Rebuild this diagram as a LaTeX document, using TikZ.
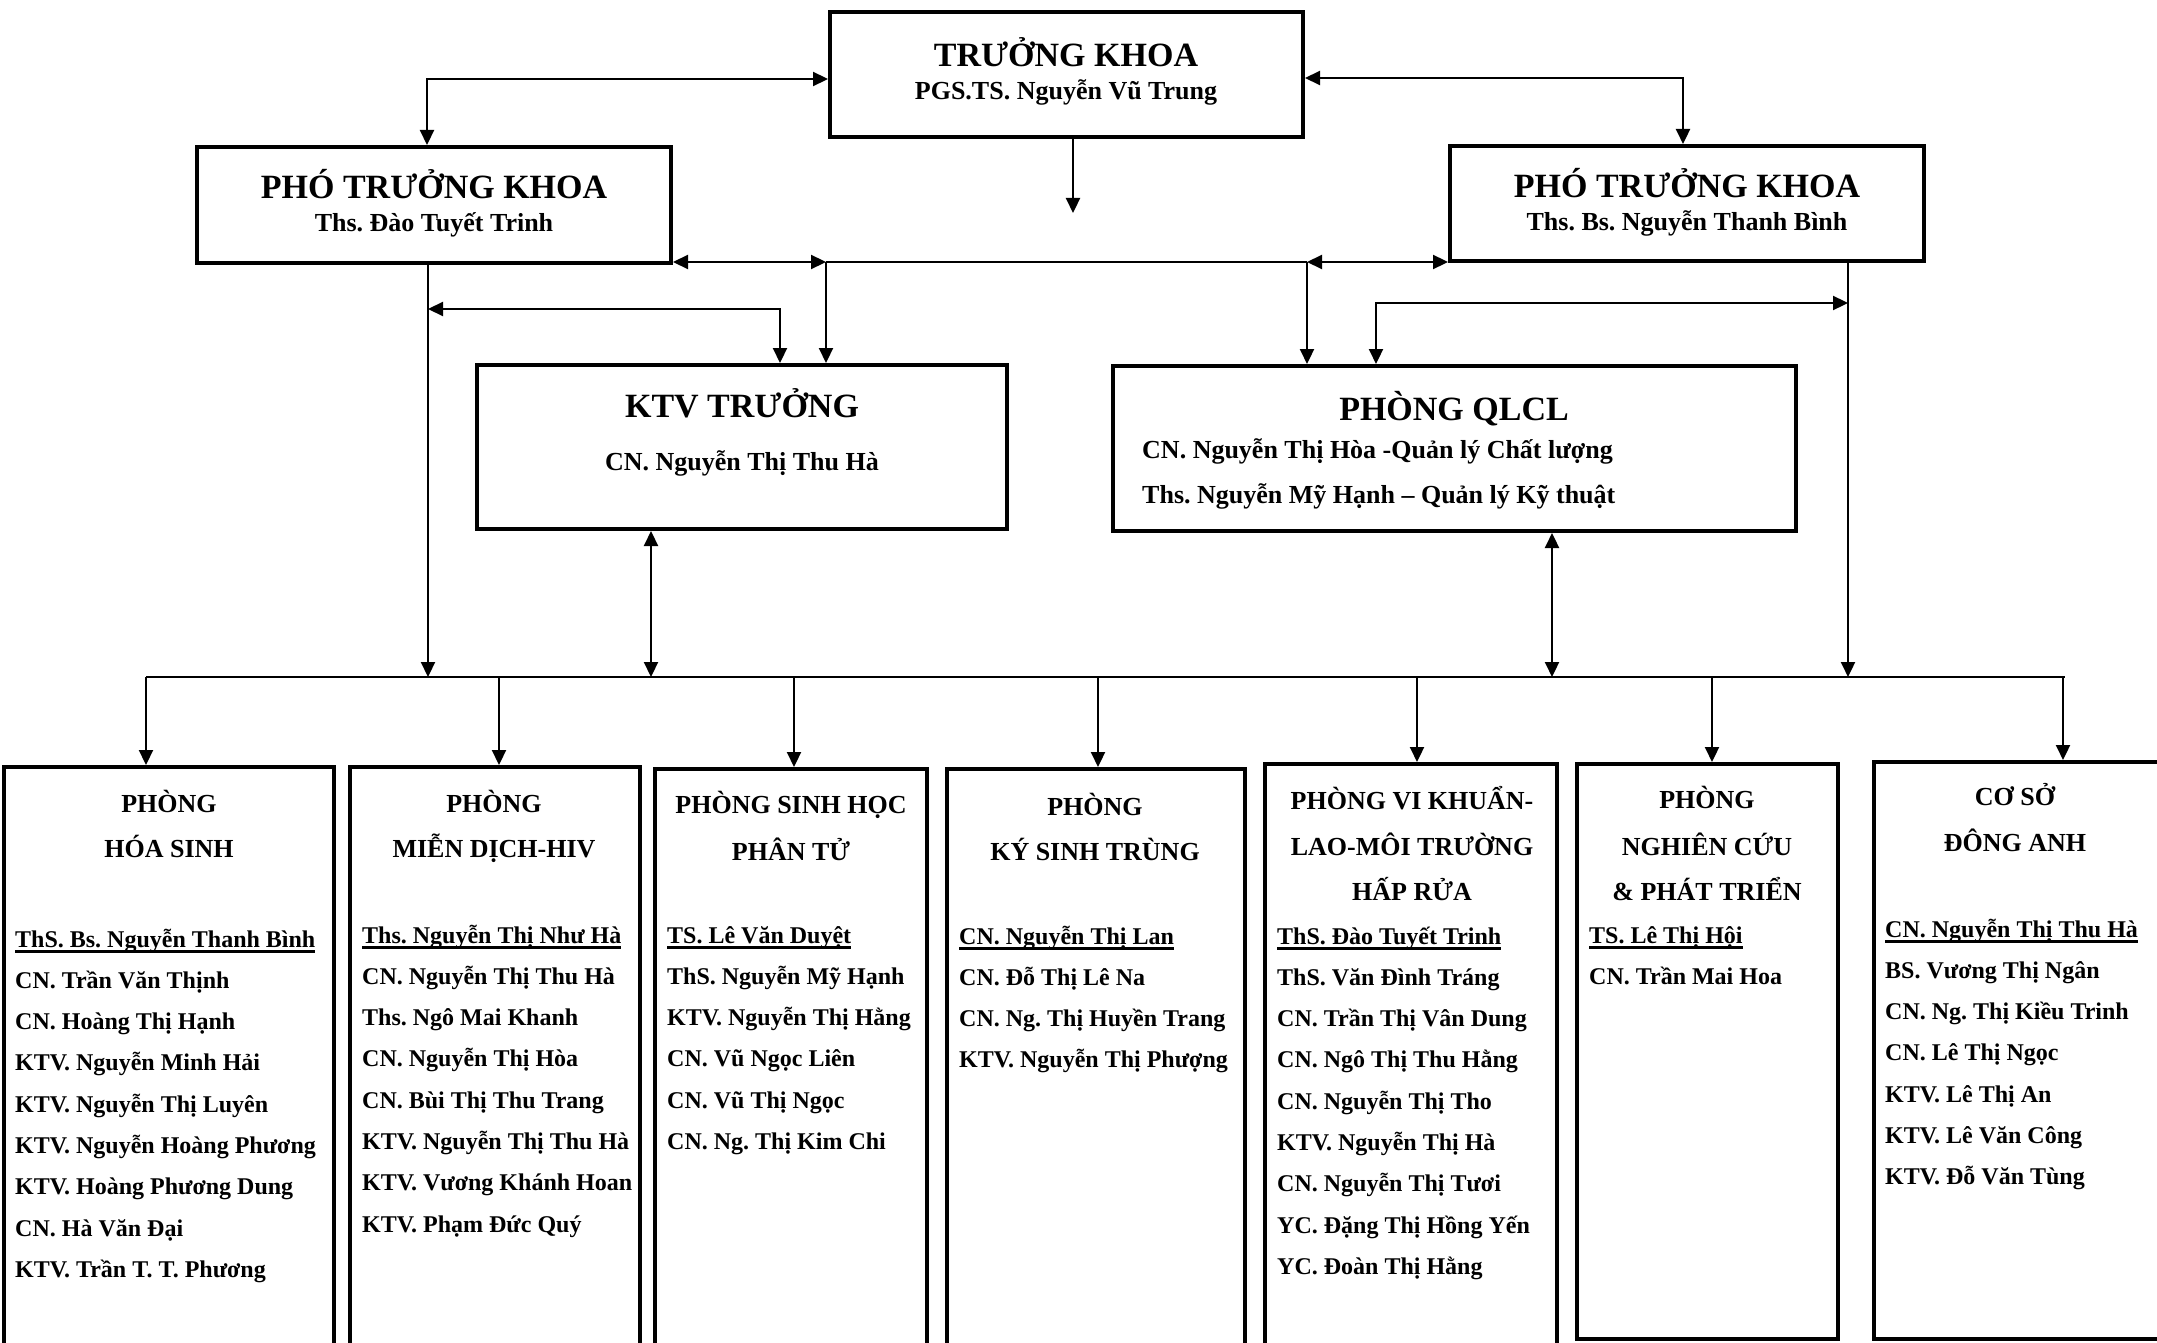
\documentclass[tikz,border=0pt]{standalone}
\usepackage{fontspec}
\setmainfont{Liberation Serif}
\usetikzlibrary{arrows.meta}
\newcommand\myul[1]{\setbox0=\hbox{#1}\rlap{\rule[-5.5pt]{\wd0}{2.2pt}}\box0}
\AtBeginDocument{\frenchspacing}
\begin{document}
\begin{tikzpicture}[x=1pt,y=-1pt,
  box/.style={draw,line width=4pt,rectangle,inner sep=0pt},
  conn/.style={line width=2.2pt},
  arr/.style={conn,-{Triangle[length=15pt,width=14pt]}},
  dbl/.style={conn,{Triangle[length=15pt,width=14pt]}-{Triangle[length=15pt,width=14pt]}},
  ttl/.style={font=\frenchspacing\bfseries\fontsize{34}{40}\selectfont,inner sep=0pt,anchor=base},
  sub/.style={font=\frenchspacing\bfseries\fontsize{26}{30}\selectfont,inner sep=0pt,anchor=base},
  subl/.style={sub,anchor=base west},
  nm/.style={font=\frenchspacing\bfseries\fontsize{24}{28}\selectfont,inner sep=0pt,anchor=base west},
]
\useasboundingbox (0,0) rectangle (2157,1343);
\clip (0,0) rectangle (2157,1343);

% upper boxes
\node[box,minimum width=473pt,minimum height=125pt] (tk) at (1066.5,74.5) {};
\node[box,minimum width=474pt,minimum height=116pt] (lp) at (434,205) {};
\node[box,minimum width=474pt,minimum height=115pt] (rp) at (1687,203.5) {};
\node[box,minimum width=530pt,minimum height=164pt] (ktv) at (742,447) {};
\node[box,minimum width=683pt,minimum height=165pt] (qlcl) at (1454.5,448.5) {};

% lower boxes
\node[box,minimum width=330pt,minimum height=633pt] (b1) at (169,1083.5) {};
\node[box,minimum width=290pt,minimum height=633pt] (b2) at (495,1083.5) {};
\node[box,minimum width=272pt,minimum height=631pt] (b3) at (791,1084.5) {};
\node[box,minimum width=298pt,minimum height=631pt] (b4) at (1096,1084.5) {};
\node[box,minimum width=292pt,minimum height=636pt] (b5) at (1411,1082) {};
\node[box,minimum width=261pt,minimum height=575pt] (b6) at (1707.5,1051.5) {};
\node[box,minimum width=288pt,minimum height=577pt] (b7) at (2018,1050.5) {};

% coordinates
\coordinate (c1) at (427,79);
\coordinate (c2) at (1683,78);
\coordinate (tkd) at (1073,213);
\coordinate (j1) at (826,262);
\coordinate (j2) at (1307,262);
\coordinate (lv) at (428,677);
\coordinate (rv) at (1848,677);
\coordinate (c3) at (428,309);
\coordinate (c4) at (780,309);
\coordinate (c5) at (1376,303);
\coordinate (c6) at (1848,303);
\coordinate (kb) at (651,677);
\coordinate (qb) at (1552,677);
\coordinate (busL) at (146,677);
\coordinate (busR) at (2065,677);

% connectors
\draw[dbl] (c1 -| tk.west) -- (c1) -- (c1 |- lp.north);
\draw[dbl] (c2 -| tk.east) -- (c2) -- (c2 |- rp.north);
\draw[arr] (tkd |- tk.south) -- (tkd);
\draw[dbl] (j1 -| lp.east) -- (j1);
\draw[conn] (j1) -- (j2);
\draw[dbl] (j2) -- (j2 -| rp.west);
\draw[arr] (j1) -- (j1 |- ktv.north);
\draw[arr] (j2) -- (j2 |- qlcl.north);
\draw[arr] (lv |- lp.south) -- (lv);
\draw[arr] (rv |- rp.south) -- (rv);
\draw[dbl] (c3) -- (c4) -- (c4 |- ktv.north);
\draw[dbl] (c5 |- qlcl.north) -- (c5) -- (c6);
\draw[dbl] (kb |- ktv.south) -- (kb);
\draw[dbl] (qb |- qlcl.south) -- (qb);
\draw[conn] (busL) -- (busR);
\foreach \n/\x in {b1/146,b2/499,b3/794,b4/1098,b5/1417,b6/1712,b7/2063}{
  \coordinate (d\n) at (\x,677);
  \draw[arr] (d\n) -- (d\n |- \n.north);
}

% upper texts
\node[ttl] (tkT) at (1066,67) {TRƯỞNG KHOA};
\node[sub] (tkS) at (1066,100) {PGS.TS. Nguyễn Vũ Trung};
\node[ttl] (lpT) at (434,199) {PHÓ TRƯỞNG KHOA};
\node[sub] (lpS) at (434,232) {Ths. Đào Tuyết Trinh};
\node[ttl] (rpT) at (1687,197) {PHÓ TRƯỞNG KHOA};
\node[sub] (rpS) at (1687,230) {Ths. Bs. Nguyễn Thanh Bình};
\node[ttl] (ktvT) at (742,417) {KTV TRƯỞNG};
\node[sub] (ktvS) at (742,470) {CN. Nguyễn Thị Thu Hà};
\node[ttl] (qT) at (1454,420) {PHÒNG QLCL};
\node[subl] (qS1) at (1142,458) {CN. Nguyễn Thị Hòa -Quản lý Chất lượng};
\node[subl] (qS2) at (1142,503) {Ths. Nguyễn Mỹ Hạnh – Quản lý Kỹ thuật};

% box 1
\node[sub] (b1h1) at (169,812) {PHÒNG};
\node[sub] (b1h2) at (169,857) {HÓA SINH};
\node[nm] (b1n0) at (15,947) {\myul{ThS. Bs. Nguyễn Thanh Bình}};
\foreach \t [count=\i] in {CN. Trần Văn Thịnh,CN. Hoàng Thị Hạnh,KTV. Nguyễn Minh Hải,KTV. Nguyễn Thị Luyên,KTV. Nguyễn Hoàng Phương,KTV. Hoàng Phương Dung,CN. Hà Văn Đại,KTV. Trần T. T. Phương}
  \node[nm] (b1n\i) at (15,947+41.3*\i) {\t};

% box 2
\node[sub] (b2h1) at (494,812) {PHÒNG};
\node[sub] (b2h2) at (494,857) {MIỄN DỊCH-HIV};
\node[nm] (b2n0) at (362,943) {\myul{Ths. Nguyễn Thị Như Hà}};
\foreach \t [count=\i] in {CN. Nguyễn Thị Thu Hà,Ths. Ngô Mai Khanh,CN. Nguyễn Thị Hòa,CN. Bùi Thị Thu Trang,KTV. Nguyễn Thị Thu Hà,KTV. Vương Khánh Hoan,KTV. Phạm Đức Quý}
  \node[nm] (b2n\i) at (362,943+41.3*\i) {\t};

% box 3
\node[sub] (b3h1) at (791,813) {PHÒNG SINH HỌC};
\node[sub] (b3h2) at (791,860) {PHÂN TỬ};
\node[nm] (b3n0) at (667,943) {\myul{TS. Lê Văn Duyệt}};
\foreach \t [count=\i] in {ThS. Nguyễn Mỹ Hạnh,KTV. Nguyễn Thị Hằng,CN. Vũ Ngọc Liên,CN. Vũ Thị Ngọc,CN. Ng. Thị Kim Chi}
  \node[nm] (b3n\i) at (667,943+41.3*\i) {\t};

% box 4
\node[sub] (b4h1) at (1095,815) {PHÒNG};
\node[sub] (b4h2) at (1095,860) {KÝ SINH TRÙNG};
\node[nm] (b4n0) at (959,944) {\myul{CN. Nguyễn Thị Lan}};
\foreach \t [count=\i] in {CN. Đỗ Thị Lê Na,CN. Ng. Thị Huyền Trang,KTV. Nguyễn Thị Phượng}
  \node[nm] (b4n\i) at (959,944+41.3*\i) {\t};

% box 5
\node[sub] (b5h1) at (1412,809) {PHÒNG VI KHUẨN-};
\node[sub] (b5h2) at (1412,855) {LAO-MÔI TRƯỜNG};
\node[sub] (b5h3) at (1412,900) {HẤP RỬA};
\node[nm] (b5n0) at (1277,944) {\myul{ThS. Đào Tuyết Trinh}};
\foreach \t [count=\i] in {ThS. Văn Đình Tráng,CN. Trần Thị Vân Dung,CN. Ngô Thị Thu Hằng,CN. Nguyễn Thị Tho,KTV. Nguyễn Thị Hà,CN. Nguyễn Thị Tươi,YC. Đặng Thị Hồng Yến,YC. Đoàn Thị Hằng}
  \node[nm] (b5n\i) at (1277,944+41.3*\i) {\t};

% box 6
\node[sub] (b6h1) at (1707,808) {PHÒNG};
\node[sub] (b6h2) at (1707,855) {NGHIÊN CỨU};
\node[sub] (b6h3) at (1707,900) {\& PHÁT TRIỂN};
\node[nm] (b6n0) at (1589,943) {\myul{TS. Lê Thị Hội}};
\node[nm] (b6n1) at (1589,984.3) {CN. Trần Mai Hoa};

% box 7
\node[sub] (b7h1) at (2015,805) {CƠ SỞ};
\node[sub] (b7h2) at (2015,851) {ĐÔNG ANH};
\node[nm] (b7n0) at (1885,937) {\myul{CN. Nguyễn Thị Thu Hà}};
\foreach \t [count=\i] in {BS. Vương Thị Ngân,CN. Ng. Thị Kiều Trinh,CN. Lê Thị Ngọc,KTV. Lê Thị An,KTV. Lê Văn Công,KTV. Đỗ Văn Tùng}
  \node[nm] (b7n\i) at (1885,937+41.3*\i) {\t};
\end{tikzpicture}
\end{document}
